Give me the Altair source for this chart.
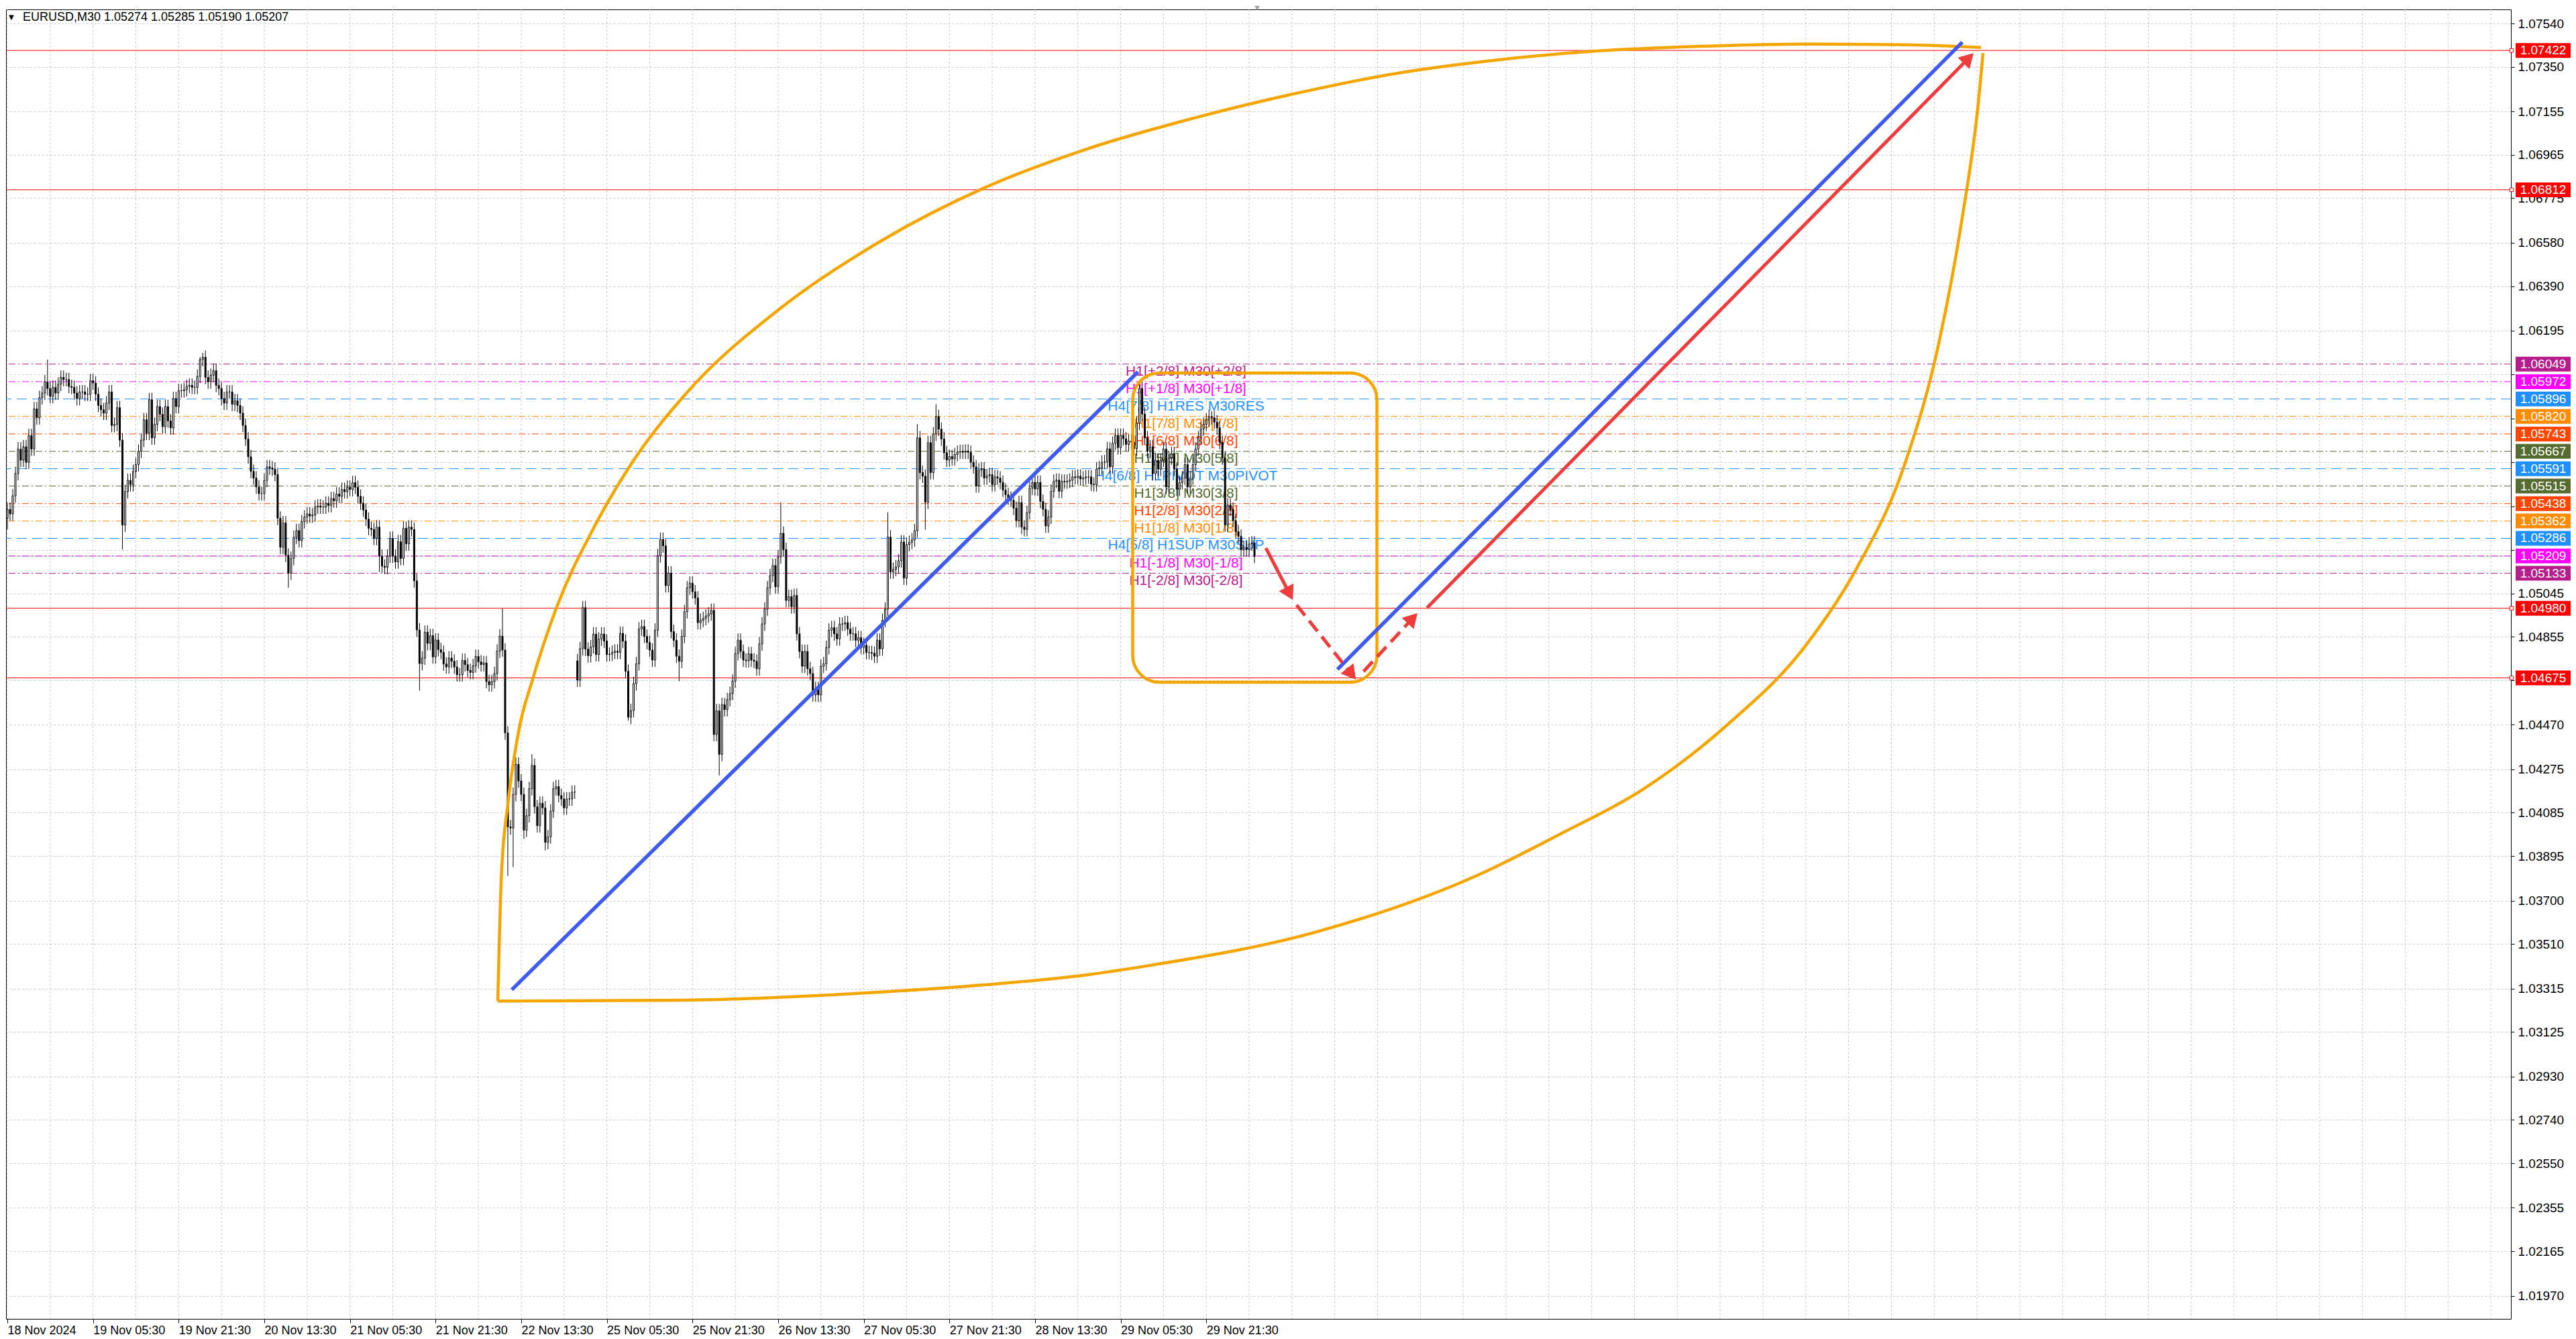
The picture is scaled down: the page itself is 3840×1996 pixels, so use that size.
import altair as alt
import pandas as pd

BASE = 1.05  # candle values below are pips above 1.05000

close_pips = [
    41.3, 39.3, 47.2, 57.0, 67.7, 62.8, 68.7, 61.9, 73.6, 67.7,
    85.3, 81.4, 90.2, 92.2, 97.1, 94.2, 90.7, 94.7, 92.2, 96.1,
    99.1, 98.1, 98.1, 95.1, 94.7, 92.2, 89.8, 92.7, 92.7, 91.7,
    91.7, 97.6, 96.6, 91.7, 86.8, 84.9, 83.4, 87.8, 92.7, 78.0,
    78.5, 85.8, 71.6, 34.4, 49.1, 54.0, 52.1, 57.9, 60.9, 66.7,
    71.6, 80.5, 74.6, 89.3, 72.6, 78.5, 86.3, 82.9, 77.5, 86.3,
    80.0, 77.0, 89.8, 86.3, 93.2, 93.2, 93.7, 95.1, 95.6, 94.7,
    94.7, 99.5, 106.9, 107.9, 99.1, 97.1, 100.0, 102.0, 95.6, 94.2,
    89.8, 87.8, 92.7, 92.7, 87.3, 88.8, 86.8, 83.4, 78.0, 72.1,
    64.3, 57.9, 55.0, 51.1, 48.2, 48.2, 54.0, 59.9, 59.4, 58.9,
    56.5, 37.4, 24.7, 35.4, 21.2, 13.4, 19.8, 29.1, 32.0, 27.6,
    35.9, 37.9, 39.3, 38.4, 38.8, 42.3, 42.8, 42.3, 42.3, 44.0,
    43.0, 46.0, 45.0, 48.0, 47.0, 50.0, 49.0, 51.0, 50.0, 53.0,
    51.0, 47.0, 44.0, 41.0, 37.0, 33.0, 32.5, 28.6, 33.5, 20.8,
    16.4, 15.9, 20.8, 28.6, 20.8, 18.3, 27.1, 19.8, 33.0, 26.2,
    33.5, 32.5, 10.0, -11.5, -26.2, -23.8, -12.5, -17.4, -14.0, -23.3,
    -15.9, -20.1, -21.3, -26.4, -27.7, -23.8, -25.2, -27.7, -31.1, -31.1,
    -24.8, -26.7, -29.2, -30.1, -27.2, -23.1, -25.5, -26.7, -25.9, -34.1,
    -35.5, -34.1, -30.6, -20.8, -14.2, -20.3, -56.6, -97.7, -98.2, -83.5,
    -70.3, -77.6, -83.5, -99.2, -92.8, -81.0, -70.8, -88.9, -97.2, -87.4,
    -89.4, -104.5, -102.1, -90.8, -81.0, -80.1, -84.0, -85.5, -89.4, -85.5,
    -85.5, -82.5, -82.5, -33.5, -19.7, -1.7, -19.9, -22.8, -18.9, -13.3,
    -22.3, -15.5, -13.3, -16.4, -22.3, -22.1, -21.3, -20.8, -21.3, -13.0,
    -16.4, -29.6, -49.7, -46.8, -35.0, -26.3, -11.1, -10.0, -14.3, -17.0,
    -20.3, -24.7, -11.6, 21.0, 28.1, 25.3, 7.9, 13.4, -12.2, -16.0,
    -23.0, -25.2, -14.3, -3.5, 6.9, 9.0, 5.2, 2.5, -8.3, -7.3,
    -6.5, -5.4, -4.5, -2.9, -57.3, -46.9, -66.0, -44.2, -46.4, -42.0,
    -39.3, -33.9, -21.9, -16.0, -20.9, -24.7, -25.0, -21.9, -24.7, -25.2,
    -28.5, -17.6, -8.9, -2.4, 6.9, 12.3, 16.7, 7.4, 20.5, 30.8,
    23.7, 1.4, 3.1, -1.3, 3.6, -13.2, -20.9, -27.4, -20.9, -28.5,
    -30.6, -39.9, -37.2, -39.9, -27.4, -26.3, -19.2, -11.6, -10.5, -13.2,
    -15.4, -8.9, -8.9, -8.3, -11.1, -13.2, -13.2, -16.0, -14.9, -19.2,
    -18.1, -21.4, -21.4, -21.7, -23.0, -16.0, -19.8, -7.3, -2.4, 29.2,
    13.9, 15.0, 16.1, 18.8, 27.0, 11.2, 25.9, 26.8, 27.9, 31.9,
    72.6, 57.4, 55.8, 44.4, 70.5, 57.4, 74.3, 81.9, 76.4, 72.1,
    66.1, 62.9, 64.4, 63.4, 65.3, 66.3, 66.6, 66.3, 66.8, 66.3,
    61.9, 59.9, 51.6, 58.5, 59.0, 55.0, 56.0, 56.5, 52.1, 55.5,
    55.0, 53.1, 49.7, 47.7, 46.2, 45.3, 41.8, 36.4, 44.3, 33.5,
    32.5, 39.9, 50.6, 53.1, 50.2, 53.1, 44.8, 41.3, 34.0, 37.9,
    49.2, 53.6, 54.1, 49.2, 53.6, 53.3, 53.6, 54.1, 55.5, 55.2,
    55.8, 54.6, 55.0, 55.5, 55.5, 52.3, 52.1, 59.0, 59.5, 61.9,
    62.1, 67.8, 59.9, 70.2, 73.7, 68.3, 73.7, 72.2, 69.7, 71.2,
    70.7, 67.8, 79.0, 94.2, 83.0, 72.6, 66.7, 68.7, 56.9, 62.8,
    58.9, 62.8, 67.7, 51.1, 63.8, 65.7, 58.9, 50.1, 53.0, 55.0,
    60.9, 51.1, 55.0, 60.9, 67.7, 72.6, 76.5, 78.5, 80.4, 81.9,
    81.4, 79.5, 77.0, 70.6, 63.8, 34.4, 43.2, 41.3, 36.4, 31.5,
    29.5, 23.6, 24.6, 23.6, 26.1, 26.6, 20.7,
]
open_overrides = {0: 37.4, 213: -25.0}
high_overrides = {15: 106.9, 72: 108.0, 73: 109.8, 185: -2.2, 196: -65.9, 215: 1.2,
                  289: 44.4, 329: 40.0, 340: 78.6, 347: 87.3, 423: 96.5, 450: 84.3}
low_overrides = {0: 32.5, 43: 23.7, 105: 7.0, 139: 13.9, 154: -38.0, 187: -119.2,
                 189: -115.3, 193: -103.0, 201: -108.0, 232: -51.2, 251: -33.9,
                 266: -75.2, 303: -43.1, 343: 32.4}
WICK = 3.0

rows = []
prev = None
for i, c in enumerate(close_pips):
    o = open_overrides.get(i, prev if prev is not None else c)
    top, bot = max(o, c), min(o, c)
    hi = max(high_overrides.get(i, top + WICK), top)
    lo = min(low_overrides.get(i, bot - WICK), bot)
    rows.append({"bar": i, "open": BASE + o / 1e4, "close": BASE + c / 1e4,
                 "high": BASE + hi / 1e4, "low": BASE + lo / 1e4})
    prev = c
candles = pd.DataFrame(rows)

# horizontal levels
level_prices = [1.07422, 1.06812, 1.06049, 1.05972, 1.05896, 1.05820, 1.05743, 1.05667,
                1.05591, 1.05515, 1.05438, 1.05362, 1.05286, 1.05209, 1.05133, 1.04980, 1.04675]
level_colors = ["#FF0000", "#FF0000", "#B71C8C", "#FF00FF", "#1E90FF", "#FF8C00", "#FF4500",
                "#556B2F", "#1E90FF", "#556B2F", "#FF4500", "#FF8C00", "#1E90FF", "#FF00FF",
                "#B71C8C", "#FF0000", "#FF0000"]
level_styles = ["solid", "solid", "dashdot", "dashdot", "dash", "dashdot", "dashdot", "dashdot",
                "dash", "dashdot", "dashdot", "dashdot", "dash", "dashdot", "dashdot", "solid", "solid"]
level_texts = ["", "", "H1[+2/8] M30[+2/8]", "H1[+1/8] M30[+1/8]", "H4[7/8] H1RES M30RES",
               "H1[7/8] M30[7/8]", "H1[6/8] M30[6/8]", "H1[5/8] M30[5/8]",
               "H4[6/8] H1PIVOT M30PIVOT", "H1[3/8] M30[3/8]", "H1[2/8] M30[2/8]",
               "H1[1/8] M30[1/8]", "H4[5/8] H1SUP M30SUP", "H1[-1/8] M30[-1/8]",
               "H1[-2/8] M30[-2/8]", "", ""]
levels = pd.DataFrame({"price": level_prices, "color": level_colors, "style": level_styles,
                       "text": level_texts,
                       "label": [f"{p:.5f}" for p in level_prices]})
bid_price = [1.05207]

y_ticks = [1.07540, 1.07350, 1.07155, 1.06965, 1.06775, 1.06580, 1.06390, 1.06195, 1.06005,
           1.05810, 1.05620, 1.05425, 1.05235, 1.05045, 1.04855, 1.04665, 1.04470, 1.04275,
           1.04085, 1.03895, 1.03700, 1.03510, 1.03315, 1.03125, 1.02930, 1.02740, 1.02550,
           1.02355, 1.02165, 1.01970]
# tick labels that sit fully under the coloured price tags
covered_ticks = ["1.06005", "1.05810", "1.05620", "1.05425", "1.05235", "1.04665"]
x_label_bars = [0, 32, 64, 96, 128, 160, 192, 224, 256, 288, 320, 352, 384, 416, 448]
x_labels = ["18 Nov 2024", "19 Nov 05:30", "19 Nov 21:30", "20 Nov 13:30", "21 Nov 05:30",
            "21 Nov 21:30", "22 Nov 13:30", "25 Nov 05:30", "25 Nov 21:30", "26 Nov 13:30",
            "27 Nov 05:30", "27 Nov 21:30", "28 Nov 13:30", "29 Nov 05:30", "29 Nov 21:30"]
grid_bars = list(range(0, 934, 16))

# drawn objects (bar index, pips above 1.05)
upper_bars = [183.25, 184.6, 187.1, 191.25, 196.25, 205.0, 219.25, 233.75, 253.75, 288.5,
              326.75, 365.0, 403.25, 441.5, 480.0, 518.25, 556.5, 594.75, 633.0, 671.25,
              709.5, 737.5]
upper_pips = [-174, -119, -86.9, -54.6, -33.2, -2.3, 33.5, 62.3, 92.2, 129.0, 159.0, 182.0,
              199.0, 212.0, 223.0, 232.0, 238.0, 242.0, 244.0, 245.0, 244.7, 243.5]
lower_bars = [183.25, 250.25, 326.75, 366.0, 403.25, 427.25, 488.5, 549.75, 580.5, 611.0,
              641.75, 672.25, 690.5, 709.0, 721.25, 730.5, 736.5, 738.25]
lower_pips = [-174, -173.6, -170.0, -166.8, -162.5, -158.3, -143.9, -118.7, -100.7, -81.4,
              -54.0, -17.9, 14.4, 61.1, 111.6, 169.2, 219.4, 241.1]
blue_bars = [188.5, 422.5, 497.0, 730.5]
blue_pips = [-169.0, 101.5, -28.8, 245.8]
blue_seg = [1, 1, 2, 2]
red_solid_bars = [470.25, 479.1, 530.5, 732.85]
red_solid_pips = [24.4, 4.4, -1.8, 238.8]
red_solid_seg = [1, 1, 2, 2]
red_dash_bars = [481.75, 502.25, 506.75, 525.1]
red_dash_pips = [-0.6, -30.8, -29.7, -6.4]
red_dash_seg = [1, 1, 2, 2]
head_bars = [479.1, 502.25, 525.1, 732.85]
head_pips = [4.4, -30.8, -6.4, 238.8]
head_angles = [152.5, 141.4, 42.9, 44.6]
box_bars = [420.5, 511.75]
box_pips = [101.0, -34.4]

def pdf(bars, pips, seg=None):
    d = pd.DataFrame({"bar": bars, "price": [BASE + p / 1e4 for p in pips]})
    d["seq"] = range(len(d))
    d["seg"] = seg if seg is not None else 1
    return d

curves = pd.concat([pdf(upper_bars, upper_pips, 1), pdf(lower_bars, lower_pips, 2)])
blue = pdf(blue_bars, blue_pips, blue_seg)
red_solid = pdf(red_solid_bars, red_solid_pips, red_solid_seg)
red_dash = pdf(red_dash_bars, red_dash_pips, red_dash_seg)
heads = pdf(head_bars, head_pips)
heads["angle"] = head_angles
box = pd.DataFrame({"x1": [box_bars[0]], "x2": [box_bars[1]],
                    "p1": [BASE + box_pips[0] / 1e4], "p2": [BASE + box_pips[1] / 1e4]})

ORANGE = "#F5A500"
BLUE = "#3F5BEF"
RED = "#EE3B3B"
FONT = "Liberation Sans"

W, H = 3734, 1952
x_scale = alt.Scale(domain=[0.75, 934.25], nice=False, zero=False)
y_scale = alt.Scale(domain=[1.018689, 1.076017], nice=False, zero=False)
label_expr = "[" + ",".join("'" + s + "'" for s in x_labels) + "][round(datum.value / 32)]"
y_label_expr = ("indexof([" + ",".join("'" + s + "'" for s in covered_ticks) +
                "], format(datum.value, '.5f')) >= 0 ? '' : format(datum.value, '.5f')")
x_axis = alt.Axis(orient="bottom", values=x_label_bars, labelExpr=label_expr, labelAlign="left",
                  labelFont=FONT, labelFontSize=18, labelColor="black", tickColor="black",
                  tickSize=6, labelPadding=2, grid=False, domain=False, title=None,
                  labelFlush=False, labelOverlap=False)
y_axis = alt.Axis(orient="right", values=y_ticks, labelExpr=y_label_expr, labelFont=FONT,
                  labelFontSize=19, labelColor="black", tickColor="black", tickSize=5,
                  labelPadding=5, grid=True, gridColor="#C8C8C8", gridDash=[3, 3],
                  domain=False, title=None, labelOverlap=False, labelFlush=False)

def X(f):
    return alt.X(f, type="quantitative", scale=x_scale, axis=x_axis)

def Y(f):
    return alt.Y(f, type="quantitative", scale=y_scale, axis=y_axis)

one = alt.Data(values=[{}])

vgrid = alt.Chart(pd.DataFrame({"bar": grid_bars})).mark_rule(
    color="#C8C8C8", strokeDash=[3, 3], strokeWidth=1).encode(x=X("bar"))

def level_layer(style, dash):
    kw = {"strokeWidth": 1}
    if dash:
        kw["strokeDash"] = dash
    return alt.Chart(levels[levels["style"] == style]).mark_rule(**kw).encode(
        y=Y("price"), color=alt.Color("color:N", scale=None))

lv_solid = level_layer("solid", None)
lv_dashdot = level_layer("dashdot", [10, 4, 2, 4])
lv_dash = level_layer("dash", [15, 8])

bid = alt.Chart(pd.DataFrame({"price": bid_price})).mark_rule(
    color="#BDBDBD", strokeWidth=1).encode(y=Y("price"))

mid_labels = alt.Chart(levels[levels["text"] != ""]).mark_text(
    font=FONT, fontSize=21, align="center", baseline="top").encode(
    x=alt.value(1759), y=Y("price"), text="text:N", color=alt.Color("color:N", scale=None))

wicks = alt.Chart(candles).mark_rule(color="black", strokeWidth=1).encode(
    x=X("bar"), y=Y("low"), y2="high")
bodies = alt.Chart(candles).mark_bar(width=2, stroke="black", strokeWidth=1).encode(
    x=X("bar"), y=Y("open"), y2="close",
    fill=alt.condition("datum.close >= datum.open", alt.value("white"), alt.value("black")))

curve_layer = alt.Chart(curves).mark_line(
    color=ORANGE, strokeWidth=4.5, interpolate="monotone").encode(
    x=X("bar"), y=Y("price"), detail="seg:N", order="seq:Q")
box_layer = alt.Chart(box).mark_rect(
    cornerRadius=40, fillOpacity=0, stroke=ORANGE, strokeWidth=4.5).encode(
    x=X("x1"), x2="x2", y=Y("p1"), y2="p2")
blue_layer = alt.Chart(blue).mark_line(color=BLUE, strokeWidth=5.5).encode(
    x=X("bar"), y=Y("price"), detail="seg:N", order="seq:Q")
red_solid_layer = alt.Chart(red_solid).mark_line(color=RED, strokeWidth=5).encode(
    x=X("bar"), y=Y("price"), detail="seg:N", order="seq:Q")
red_dash_layer = alt.Chart(red_dash).mark_line(
    color=RED, strokeWidth=5, strokeDash=[20, 10]).encode(
    x=X("bar"), y=Y("price"), detail="seg:N", order="seq:Q")
head_layer = alt.Chart(heads).mark_point(
    shape="triangle-up", filled=True, size=600, color=RED, opacity=1).encode(
    x=X("bar"), y=Y("price"), angle=alt.Angle("angle:Q", scale=None))

squares = alt.Chart(levels[levels["style"] == "solid"]).mark_point(
    shape="square", size=30, filled=True, fill="white", stroke="#FF0000",
    strokeWidth=1, opacity=1).encode(x=alt.value(3735), y=Y("price"))
tag_boxes = alt.Chart(levels).mark_tick(orient="horizontal", thickness=22, size=82,
                                        opacity=1).encode(
    x=alt.value(3782), y=Y("price"), color=alt.Color("color:N", scale=None))
tag_texts = alt.Chart(levels).mark_text(
    font=FONT, fontSize=19, color="white", align="center", baseline="middle").encode(
    x=alt.value(3782), y=Y("price"), text="label:N")

title_tri = alt.Chart(one).mark_text(text="\u25BC", fontSize=13, color="black",
                                     align="center", baseline="middle").encode(
    x=alt.value(8), y=alt.value(12))
title_txt = alt.Chart(one).mark_text(
    text="EURUSD,M30  1.05274 1.05285 1.05190 1.05207", font=FONT, fontSize=18,
    color="black", align="left", baseline="middle").encode(x=alt.value(25), y=alt.value(12))
shift_mark = alt.Chart(one).mark_point(shape="triangle-down", size=60, filled=True,
                                       color="#A0A0A0", opacity=1).encode(
    x=alt.value(1865), y=alt.value(-2))

chart = alt.layer(
    vgrid, lv_dashdot, lv_dash, lv_solid, bid, mid_labels, wicks, bodies,
    curve_layer, box_layer, blue_layer, red_solid_layer, red_dash_layer, head_layer,
    squares, tag_boxes, tag_texts, title_tri, title_txt, shift_mark,
).properties(width=W, height=H, padding=0, background="white").configure_view(
    stroke="black", strokeWidth=1)

chart.save("out.html", embed_options={"renderer": "svg", "actions": False})
